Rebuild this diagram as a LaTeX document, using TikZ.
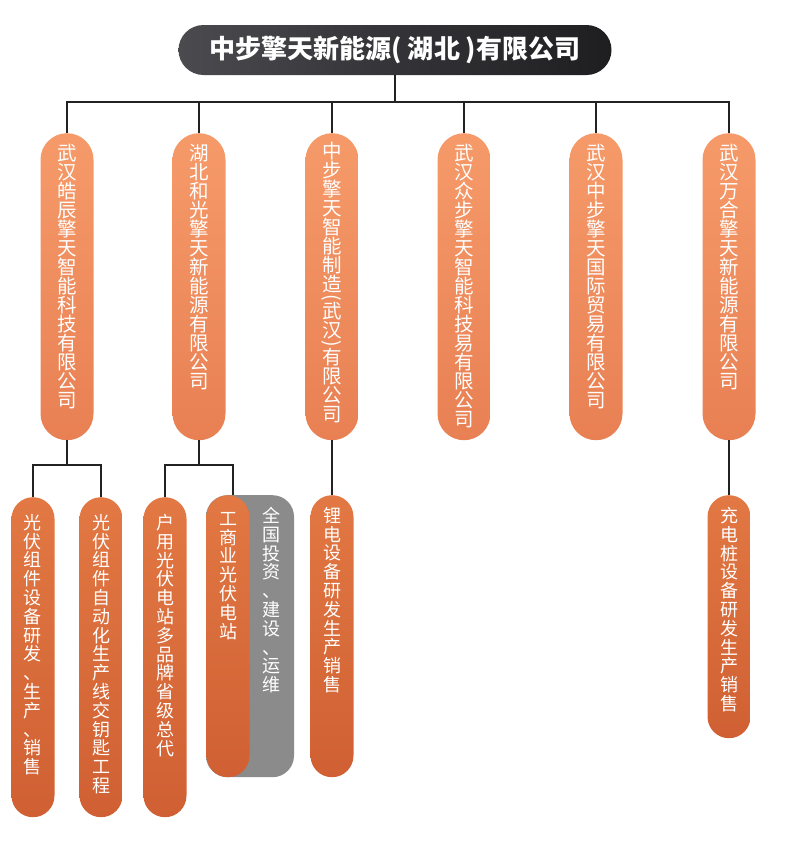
\documentclass[tikz,border=0pt]{standalone}
\usepackage{fontspec}
\usepackage{graphicx}
\newfontfamily\cjk{Noto Sans CJK SC}

\definecolor{titleL}{HTML}{4A4A4F}
\definecolor{titleR}{HTML}{1E1E21}
\definecolor{unitT}{HTML}{F69A69}
\definecolor{unitB}{HTML}{E88053}
\definecolor{subT}{HTML}{E27843}
\definecolor{subB}{HTML}{D06033}
\definecolor{greyfill}{HTML}{8B8B8B}
\definecolor{linec}{HTML}{222222}

% stacked (vertical) text, one character per line
\makeatletter
\newcommand\vtxt[1]{\vtxt@first#1\relax}
\def\vtxt@first#1{#1\vtxt@rest}
\def\vtxt@rest#1{\ifx#1\relax\else\\#1\expandafter\vtxt@rest\fi}
\makeatother
\newcommand\pilltext[4][11pt]{\parbox[c][#2][t]{#3}{\centering\lineskiplimit=-50pt
  \vspace*{#1}\vtxt{#4}}}
\newcommand\vparen[1]{\rotatebox[origin=c]{-90}{#1}}

\tikzset{x=1pt, y=-1pt,
         company/.style={anchor=north, inner sep=0pt, minimum width=53pt,
                         rounded corners=26.5pt, text=white,
                         top color=unitT, bottom color=unitB,
                         font=\cjk\fontsize{19.5}{19}\selectfont},
         branch/.style={company, minimum width=43pt, rounded corners=21.5pt,
                        top color=subT, bottom color=subB,
                        font=\cjk\fontsize{18}{18.8}\selectfont},
         link/.style={draw=linec, line width=2pt}}

\begin{document}
\begin{tikzpicture}
\useasboundingbox (0,0) rectangle (790,847);
% head office
\node (top) [minimum width=433pt, minimum height=50pt, rounded corners=25pt,
             left color=titleL, right color=titleR, text=white,
             font=\cjk\bfseries\fontsize{26}{26}\selectfont]
      at (395,50) {中步擎天新能源( 湖北 )有限公司};

% subsidiaries
\node (c1) [company] at (67,133) {\pilltext{307pt}{53pt}{武汉皓辰擎天智能科技有限公司}};
\node (c2) [company] at (199,133) {\pilltext{307pt}{53pt}{湖北和光擎天新能源有限公司}};
\node (c3) [company] at (332,133) {\parbox[c][307pt][t]{53pt}{\centering\lineskiplimit=-50pt
  \vspace*{9pt}中\\步\\擎\\天\\智\\能\\制\\造\\[-7pt]\vparen{(}\\[-4pt]武\\汉\\[-7pt]\vparen{)}\\[-4pt]有\\限\\公\\司}};
\node (c4) [company] at (464,133) {\pilltext{307pt}{53pt}{武汉众步擎天智能科技易有限公司}};
\node (c5) [company] at (596,133) {\pilltext{307pt}{53pt}{武汉中步擎天国际贸易有限公司}};
\node (c6) [company] at (729,133) {\pilltext{307pt}{53pt}{武汉万合擎天新能源有限公司}};

% business lines
\node (s1) [branch] at (33,497) {\pilltext[17pt]{320pt}{43pt}{光伏组件设备研发、生产、销售}};
\node (s2) [branch] at (101,497) {\pilltext[17pt]{320pt}{43pt}{光伏组件自动化生产线交钥匙工程}};
\node (s3) [branch] at (165,497) {\pilltext[17pt]{320pt}{43pt}{户用光伏电站多品牌省级总代}};
\node (g) [branch, minimum width=88pt, top color=greyfill, bottom color=greyfill]
      at (250,495) {\hspace*{42pt}\pilltext[12pt]{282pt}{44pt}{全国投资、建设、运维}};
\node (s4) [branch] at (228,495) {\pilltext[17pt]{282pt}{43pt}{工商业光伏电站}};
\node (s5) [branch] at (332,495) {\pilltext[12pt]{282pt}{43pt}{锂电设备研发生产销售}};
\node (s6) [branch] at (729,495) {\pilltext[12pt]{243pt}{43pt}{充电桩设备研发生产销售}};

% connectors
\coordinate (bus) at (395,102);
\draw[link] (top.south) -- (bus);
\foreach \n in {c1,c2,c3,c4,c5,c6}
  \draw[link] (bus) -| (\n.north);
\draw[link] (c1.south) -- ++(0,25) coordinate (m1) -| (s1.north);
\draw[link] (m1) -| (s2.north);
\draw[link] (c2.south) -- ++(0,25) coordinate (m2) -| (s3.north);
\draw[link] (m2) -| ([xshift=5pt]s4.north);
\draw[link] (c3.south) -- (s5.north);
\draw[link] (c6.south) -- (s6.north);
\end{tikzpicture}
\end{document}
